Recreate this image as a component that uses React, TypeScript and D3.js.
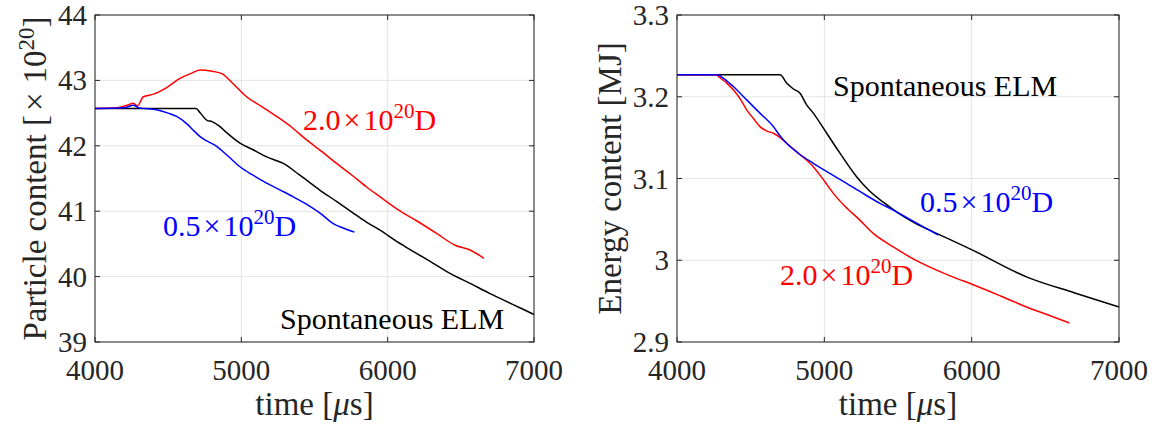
import React from "react";
import * as d3 from "d3";

// ---------- data ----------
const xTicks = [4000, 5000, 6000, 7000];
const leftYTicks = [39, 40, 41, 42, 43, 44];
const rightYTicks = [2.9, 3.0, 3.1, 3.2, 3.3];
const rightYTickLabels = ["2.9", "3", "3.1", "3.2", "3.3"];

// Particle content (x 1e20) vs time [us]
const leftSpontTime = [4000, 4690, 4720, 4765, 4800, 4850, 4900, 4991, 5080, 5173, 5287, 5400, 5538, 5650, 5765, 5850, 5948, 6061, 6119, 6270, 6426, 6560, 6700, 6850, 7000];
const leftSpontVal = [42.57, 42.57, 42.5, 42.39, 42.37, 42.3, 42.2, 42.04, 41.94, 41.83, 41.73, 41.55, 41.32, 41.15, 40.97, 40.84, 40.71, 40.54, 40.46, 40.26, 40.05, 39.9, 39.74, 39.58, 39.42];

const left20Time = [4000, 4150, 4220, 4262, 4290, 4330, 4400, 4490, 4581, 4650, 4718, 4800, 4870, 4930, 5036, 5140, 5241, 5346, 5446, 5551, 5651, 5756, 5856, 5948, 6073, 6200, 6335, 6460, 6560, 6658];
const left20Val = [42.57, 42.58, 42.62, 42.65, 42.61, 42.75, 42.79, 42.89, 43.03, 43.1, 43.16, 43.14, 43.1, 42.98, 42.75, 42.6, 42.45, 42.28, 42.09, 41.91, 41.73, 41.55, 41.37, 41.22, 41.02, 40.85, 40.66, 40.48, 40.41, 40.28];

const left05Time = [4000, 4200, 4262, 4300, 4421, 4500, 4558, 4626, 4680, 4718, 4832, 4910, 4991, 5080, 5173, 5260, 5355, 5450, 5538, 5628, 5700, 5773];
const left05Val = [42.57, 42.58, 42.62, 42.58, 42.55, 42.5, 42.45, 42.34, 42.22, 42.14, 41.99, 41.84, 41.68, 41.55, 41.43, 41.33, 41.22, 41.1, 40.97, 40.81, 40.74, 40.68];

// Energy content [MJ] vs time [us]
const rightSpontTime = [4000, 4700, 4744, 4790, 4835, 4880, 4925, 5016, 5106, 5219, 5300, 5400, 5500, 5600, 5700, 5762, 6006, 6372, 6700, 7000];
const rightSpontVal = [3.2268, 3.2268, 3.2167, 3.2095, 3.2044, 3.19, 3.18, 3.1554, 3.131, 3.1022, 3.086, 3.071, 3.058, 3.047, 3.038, 3.0329, 3.0124, 2.9797, 2.96, 2.9429];

const right20Time = [4000, 4260, 4300, 4337, 4382, 4430, 4473, 4520, 4563, 4610, 4654, 4700, 4744, 4830, 4925, 5000, 5061, 5140, 5241, 5332, 5468, 5600, 5762, 5880, 6006, 6200, 6372, 6520, 6662];
const right20Val = [3.2268, 3.2268, 3.222, 3.2167, 3.2085, 3.197, 3.184, 3.173, 3.1635, 3.158, 3.1554, 3.15, 3.1431, 3.13, 3.1145, 3.097, 3.0818, 3.066, 3.0491, 3.0328, 3.0164, 3.002, 2.9879, 2.979, 2.9703, 2.956, 2.9429, 2.933, 2.9233];

const right05Time = [4000, 4270, 4320, 4382, 4473, 4563, 4654, 4700, 4744, 4830, 4925, 5040, 5151, 5260, 5378, 5468, 5560, 5660, 5773];
const right05Val = [3.2268, 3.2268, 3.222, 3.2125, 3.1962, 3.18, 3.1635, 3.152, 3.1431, 3.13, 3.1186, 3.106, 3.0941, 3.082, 3.0696, 3.0614, 3.052, 3.042, 3.0308];

// ---------- styling ----------
const FONT = "'Liberation Serif', 'Times New Roman', serif";
const AXIS_COLOR = "#262626";
const GRID_COLOR = "#e3e3e3";

type Series = { t: number[]; v: number[]; color: string };
type Note = { kind: "sci" | "plain"; mant?: string; text?: string; color: string; x: number; y: number };

function zip(t: number[], v: number[]): [number, number][] {
  return t.map((d, i) => [d, v[i]]);
}

function SciLabel({ x, y, mant, color }: { x: number; y: number; mant: string; color: string }) {
  return (
    <text x={x} y={y} fill={color} fontFamily={FONT} fontSize={30}>
      <tspan>{mant}</tspan>
      <tspan dx={3}>×</tspan>
      <tspan dx={3}>10</tspan>
      <tspan dy={-12} fontSize={21}>20</tspan>
      <tspan dy={12}>D</tspan>
    </text>
  );
}

function Panel(props: {
  x0: number; x1: number; y0: number; y1: number;
  yDomain: [number, number]; yTicks: number[]; yTickLabels: string[];
  series: Series[]; notes: Note[]; yLabel: React.ReactNode; yLabelX: number;
}) {
  const { x0, x1, y0, y1, yDomain, yTicks, yTickLabels, series, notes, yLabel, yLabelX } = props;
  const xs = d3.scaleLinear().domain([4000, 7000]).range([x0, x1]);
  const ys = d3.scaleLinear().domain(yDomain).range([y1, y0]);
  const line = d3.line<[number, number]>().x((d) => xs(d[0])).y((d) => ys(d[1])).curve(d3.curveMonotoneX);
  const tl = 5;
  const cy = (y0 + y1) / 2;
  return (
    <g>
      {xTicks.map((t) => (
        <line key={"gx" + t} x1={xs(t)} x2={xs(t)} y1={y0} y2={y1} stroke={GRID_COLOR} strokeWidth={1} />
      ))}
      {yTicks.map((t) => (
        <line key={"gy" + t} x1={x0} x2={x1} y1={ys(t)} y2={ys(t)} stroke={GRID_COLOR} strokeWidth={1} />
      ))}
      {series.map((s, i) => (
        <path key={i} d={line(zip(s.t, s.v)) || ""} fill="none" stroke={s.color} strokeWidth={1.5} strokeLinejoin="round" />
      ))}
      <rect x={x0} y={y0} width={x1 - x0} height={y1 - y0} fill="none" stroke={AXIS_COLOR} strokeWidth={1} />
      {xTicks.map((t) => (
        <g key={"tx" + t}>
          <line x1={xs(t)} x2={xs(t)} y1={y1} y2={y1 - tl} stroke={AXIS_COLOR} />
          <line x1={xs(t)} x2={xs(t)} y1={y0} y2={y0 + tl} stroke={AXIS_COLOR} />
          <text x={xs(t)} y={y1 + 38} textAnchor="middle" fontFamily={FONT} fontSize={29} fill={AXIS_COLOR}>{t}</text>
        </g>
      ))}
      {yTicks.map((t, i) => (
        <g key={"ty" + t}>
          <line x1={x0} x2={x0 + tl} y1={ys(t)} y2={ys(t)} stroke={AXIS_COLOR} />
          <line x1={x1} x2={x1 - tl} y1={ys(t)} y2={ys(t)} stroke={AXIS_COLOR} />
          <text x={x0 - 8} y={ys(t) + 10} textAnchor="end" fontFamily={FONT} fontSize={29} fill={AXIS_COLOR}>{yTickLabels[i]}</text>
        </g>
      ))}
      <text x={(x0 + x1) / 2} y={415} textAnchor="middle" fontFamily={FONT} fontSize={33} fill={AXIS_COLOR}>
        <tspan>time [</tspan>
        <tspan fontStyle="italic">μ</tspan>
        <tspan>s]</tspan>
      </text>
      <text transform={`translate(${yLabelX},${cy}) rotate(-90)`} textAnchor="middle" fontFamily={FONT} fontSize={33} fill={AXIS_COLOR}>
        {yLabel}
      </text>
      {notes.map((n, i) =>
        n.kind === "sci" ? (
          <SciLabel key={i} x={n.x} y={n.y} mant={n.mant || ""} color={n.color} />
        ) : (
          <text key={i} x={n.x} y={n.y} fill={n.color} fontFamily={FONT} fontSize={30}>{n.text}</text>
        )
      )}
    </g>
  );
}

export default function App() {
  return (
    <svg width={1155} height={427} style={{ position: "absolute", left: 0, top: 0, background: "#fff" }}>
      <Panel
        x0={95} x1={534} y0={15} y1={342}
        yDomain={[39, 44]} yTicks={leftYTicks} yTickLabels={leftYTicks.map(String)}
        series={[
          { t: leftSpontTime, v: leftSpontVal, color: "#000000" },
          { t: left20Time, v: left20Val, color: "#ff0000" },
          { t: left05Time, v: left05Val, color: "#0000ff" },
        ]}
        notes={[
          { kind: "sci", mant: "2.0", color: "#ff0000", x: 303, y: 130 },
          { kind: "sci", mant: "0.5", color: "#0000ff", x: 163, y: 236 },
          { kind: "plain", text: "Spontaneous ELM", color: "#000000", x: 280, y: 329 },
        ]}
        yLabel={
          <>
            <tspan>Particle content [</tspan>
            <tspan dx={4}>×</tspan>
            <tspan dx={9}>10</tspan>
            <tspan dy={-12} fontSize={23}>20</tspan>
            <tspan dy={12}>]</tspan>
          </>
        }
        yLabelX={46}
      />
      <Panel
        x0={677} x1={1119} y0={15} y1={342}
        yDomain={[2.9, 3.3]} yTicks={rightYTicks} yTickLabels={rightYTickLabels}
        series={[
          { t: rightSpontTime, v: rightSpontVal, color: "#000000" },
          { t: right20Time, v: right20Val, color: "#ff0000" },
          { t: right05Time, v: right05Val, color: "#0000ff" },
        ]}
        notes={[
          { kind: "plain", text: "Spontaneous ELM", color: "#000000", x: 833, y: 96 },
          { kind: "sci", mant: "0.5", color: "#0000ff", x: 920, y: 212 },
          { kind: "sci", mant: "2.0", color: "#ff0000", x: 780, y: 285 },
        ]}
        yLabel={<tspan>Energy content [MJ]</tspan>}
        yLabelX={621}
      />
    </svg>
  );
}
